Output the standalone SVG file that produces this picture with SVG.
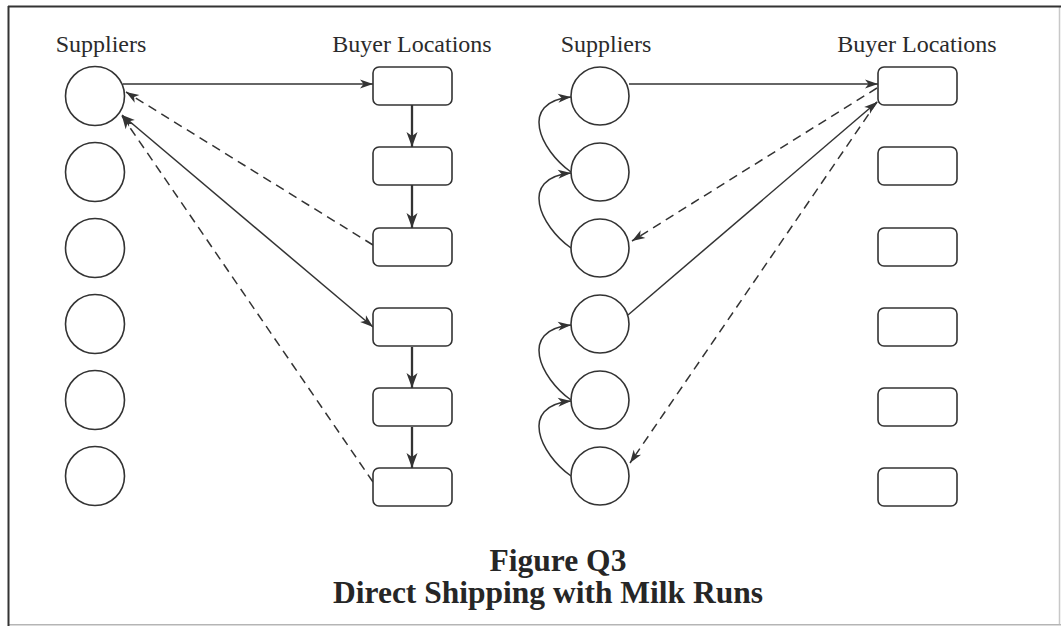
<svg xmlns="http://www.w3.org/2000/svg" width="1061" height="626" viewBox="0 0 1061 626">
  <style>
    .lbl { font-family: "Liberation Serif", "Times New Roman", serif; font-size: 24px; fill: #2b2b2b; text-anchor: middle; }
    .ttl { font-family: "Liberation Serif", "Times New Roman", serif; font-size: 31.5px; font-weight: bold; fill: #262626; text-anchor: middle; }
    .sup { fill: #fff; stroke: #333; stroke-width: 1.6; }
    .loc { fill: #fff; stroke: #333; stroke-width: 1.6; }
    .ln { fill: none; stroke: #333; stroke-width: 1.5; }
    .run { fill: none; stroke: #333; stroke-width: 2.3; }
    .ret { fill: none; stroke: #333; stroke-width: 1.5; stroke-dasharray: 9 6; }
  </style>
  <defs>
    <marker id="ah" markerUnits="userSpaceOnUse" markerWidth="14" markerHeight="10" refX="13" refY="5" orient="auto-start-reverse" overflow="visible">
      <path d="M0,0.5 L13,5 L0,9.5 L3.5,5 Z" fill="#333"/>
    </marker>
    <marker id="ahb" markerUnits="userSpaceOnUse" markerWidth="16" markerHeight="12" refX="15" refY="6" orient="auto" overflow="visible">
      <path d="M0,0.5 L15,6 L0,11.5 L4,6 Z" fill="#333"/>
    </marker>
  </defs>

  <rect width="1061" height="626" fill="#fff"/>

  <!-- page frame -->
  <g id="frame">
    <line x1="1059.5" y1="6" x2="1059.5" y2="625" stroke="#c8c8c8" stroke-width="1.5"/>
    <line x1="8" y1="624.8" x2="1061" y2="624.8" stroke="#b5b5b5" stroke-width="1.5"/>
    <line x1="8" y1="6.5" x2="1061" y2="6.5" stroke="#333" stroke-width="2"/>
    <line x1="8.5" y1="6" x2="8.5" y2="626" stroke="#333" stroke-width="2"/>
  </g>

  <!-- column headings -->
  <g id="headings">
    <text class="lbl" x="101" y="52">Suppliers</text>
    <text class="lbl" x="412" y="52">Buyer Locations</text>
    <text class="lbl" x="606" y="52">Suppliers</text>
    <text class="lbl" x="917" y="52">Buyer Locations</text>
  </g>

  <!-- connectors -->
  <g id="connectors">
    <!-- left panel: direct shipping -->
    <path class="ln" d="M123,84 H373" marker-end="url(#ah)"/>
    <path class="run" d="M412,105 V147" marker-end="url(#ahb)"/>
    <path class="run" d="M412,185 V228" marker-end="url(#ahb)"/>
    <path class="run" d="M412,347 V388" marker-end="url(#ahb)"/>
    <path class="run" d="M412,427 V468" marker-end="url(#ahb)"/>
    <path class="ret" d="M373,245 L126,92" marker-end="url(#ah)"/>
    <path class="ln" d="M122,115 L373,327" marker-start="url(#ah)" marker-end="url(#ah)"/>
    <path class="ret" d="M373,482 L122,116" marker-end="url(#ah)"/>

    <!-- right panel: milk runs -->
    <path class="ln" d="M571,172 C540,150 518,102 571,97" marker-end="url(#ah)"/>
    <path class="ln" d="M571,248 C540,226 518,178 571,173" marker-end="url(#ah)"/>
    <path class="ln" d="M571,400 C540,378 518,330 571,325" marker-end="url(#ah)"/>
    <path class="ln" d="M571,476 C540,454 518,406 571,401" marker-end="url(#ah)"/>
    <path class="ln" d="M629,84 H878" marker-end="url(#ah)"/>
    <path class="ret" d="M877,88 L632,241" marker-end="url(#ah)"/>
    <path class="ln" d="M628,315 L877,102" marker-end="url(#ah)"/>
    <path class="ret" d="M877,102 L630,463" marker-end="url(#ah)"/>
  </g>

  <!-- left suppliers -->
  <g id="supL1"><circle class="sup" cx="95" cy="96" r="29.5"/></g>
  <g id="supL2"><circle class="sup" cx="95" cy="172" r="29.5"/></g>
  <g id="supL3"><circle class="sup" cx="95" cy="248" r="29.5"/></g>
  <g id="supL4"><circle class="sup" cx="95" cy="324" r="29.5"/></g>
  <g id="supL5"><circle class="sup" cx="95" cy="400" r="29.5"/></g>
  <g id="supL6"><circle class="sup" cx="95" cy="476" r="29.5"/></g>

  <!-- left buyer locations -->
  <g id="locL1"><rect class="loc" x="373" y="67" width="79" height="38" rx="6"/></g>
  <g id="locL2"><rect class="loc" x="373" y="147" width="79" height="38" rx="6"/></g>
  <g id="locL3"><rect class="loc" x="373" y="228" width="79" height="38" rx="6"/></g>
  <g id="locL4"><rect class="loc" x="373" y="308" width="79" height="38" rx="6"/></g>
  <g id="locL5"><rect class="loc" x="373" y="388" width="79" height="38" rx="6"/></g>
  <g id="locL6"><rect class="loc" x="373" y="468" width="79" height="38" rx="6"/></g>

  <!-- right suppliers -->
  <g id="supR1"><circle class="sup" cx="600" cy="96" r="29"/></g>
  <g id="supR2"><circle class="sup" cx="600" cy="172" r="29"/></g>
  <g id="supR3"><circle class="sup" cx="600" cy="248" r="29"/></g>
  <g id="supR4"><circle class="sup" cx="600" cy="324" r="29"/></g>
  <g id="supR5"><circle class="sup" cx="600" cy="400" r="29"/></g>
  <g id="supR6"><circle class="sup" cx="600" cy="476" r="29"/></g>

  <!-- right buyer locations -->
  <g id="locR1"><rect class="loc" x="878" y="67" width="79" height="38" rx="6"/></g>
  <g id="locR2"><rect class="loc" x="878" y="147" width="79" height="38" rx="6"/></g>
  <g id="locR3"><rect class="loc" x="878" y="228" width="79" height="38" rx="6"/></g>
  <g id="locR4"><rect class="loc" x="878" y="308" width="79" height="38" rx="6"/></g>
  <g id="locR5"><rect class="loc" x="878" y="388" width="79" height="38" rx="6"/></g>
  <g id="locR6"><rect class="loc" x="878" y="468" width="79" height="38" rx="6"/></g>

  <!-- caption -->
  <g id="caption">
    <text class="ttl" x="558" y="571">Figure Q3</text>
    <text class="ttl" x="548" y="603">Direct Shipping with Milk Runs</text>
  </g>
</svg>
